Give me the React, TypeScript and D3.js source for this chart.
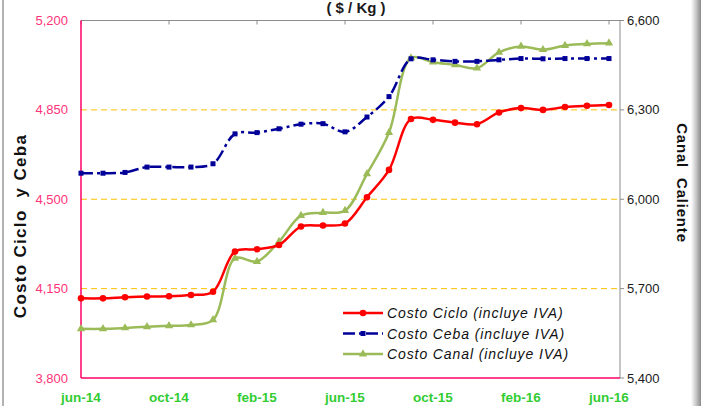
import * as d3 from 'd3';

const months = [
  'jun-14', 'jul-14', 'ago-14', 'sep-14', 'oct-14', 'nov-14', 'dic-14',
  'ene-15', 'feb-15', 'mar-15', 'abr-15', 'may-15', 'jun-15', 'jul-15',
  'ago-15', 'sep-15', 'oct-15', 'nov-15', 'dic-15', 'ene-16', 'feb-16',
  'mar-16', 'abr-16', 'may-16', 'jun-16',
];
const tickLabels = ['jun-14', 'oct-14', 'feb-15', 'jun-15', 'oct-15', 'feb-16', 'jun-16'];

const costoCiclo = [
  4112, 4112, 4116, 4119, 4120, 4125, 4138, 4295, 4304, 4321, 4393, 4397, 4405,
  4508, 4615, 4814, 4811, 4800, 4794, 4840, 4857, 4850, 4861, 4866, 4869,
];
const costoCeba = [
  4602, 4602, 4605, 4626, 4626, 4626, 4639, 4756, 4761, 4776, 4794, 4796, 4764,
  4822, 4902, 5050, 5046, 5040, 5040, 5046, 5051, 5050, 5051, 5051, 5051,
];
const costoCanal = [
  5565, 5565, 5568, 5572, 5575, 5578, 5595, 5802, 5791, 5858, 5945, 5955, 5962,
  6085, 6224, 6474, 6460, 6451, 6440, 6493, 6513, 6502, 6516, 6522, 6524,
];

const leftTicks = [3800, 4150, 4500, 4850, 5200];
const rightTicks = [5400, 5700, 6000, 6300, 6600];

const legendNames = ['Costo Ciclo (incluye IVA)', 'Costo Ceba (incluye IVA)', 'Costo Canal (incluye IVA)'];

const W = 701, H = 406;
const plotL = 81, plotR = 620, plotT = 20.5, plotB = 378;
const font = '"Liberation Sans", Arial, sans-serif';

export default function App() {
  const x = d3.scalePoint<string>().domain(months).range([plotL, 609]);
  const yL = d3.scaleLinear().domain([3800, 5200]).range([plotB, plotT]);
  const yR = d3.scaleLinear().domain([5400, 6600]).range([plotB, plotT]);

  const curve = d3.curveCatmullRom.alpha(0.5);
  const lineL = d3.line<number>().x((_, i) => x(months[i])!).y((d) => yL(d)).curve(curve);
  const lineR = d3.line<number>().x((_, i) => x(months[i])!).y((d) => yR(d)).curve(curve);

  const tri = d3.symbol().type(d3.symbolTriangle).size(30)()!;

  return (
    <svg width={W} height={H} style={{ position: 'absolute', left: 0, top: 0, display: 'block' }}>
      <defs>
        <linearGradient id="shadow" x1="0" x2="1" y1="0" y2="0">
          <stop offset="0" stopColor="#ffffff" />
          <stop offset="0.5" stopColor="#c8c8c8" />
          <stop offset="1" stopColor="#8a8a8a" />
        </linearGradient>
      </defs>
      <rect x={0} y={0} width={W} height={H} fill="#ffffff" />
      <rect x={691} y={0} width={10} height={H} fill="url(#shadow)" />
      <line x1={3} x2={3} y1={0} y2={H} stroke="#9a9a9a" strokeWidth={1.5} />

      {/* title */}
      <text x={356} y={13} textAnchor="middle" fontFamily={font} fontWeight="bold" fontSize={15} fill="#1a1a1a">( $ / Kg )</text>

      {/* gridlines */}
      {leftTicks.slice(1, -1).map((t) => (
        <line key={t} x1={plotL} x2={plotR} y1={yL(t)} y2={yL(t)} stroke="#FFC000" strokeWidth={1} strokeDasharray="6,4" />
      ))}

      {/* frame */}
      <line x1={plotL} x2={plotR} y1={plotT} y2={plotT} stroke="#8c8c8c" />
      <line x1={plotR} x2={plotR} y1={plotT} y2={plotB} stroke="#8c8c8c" />
      {tickLabels.map((m) => (
        <line key={m} x1={x(m)!} x2={x(m)!} y1={plotT} y2={plotT + 4} stroke="#8c8c8c" />
      ))}
      {rightTicks.map((t) => (
        <line key={t} x1={plotR} x2={plotR + 4} y1={yR(t)} y2={yR(t)} stroke="#8c8c8c" />
      ))}
      <line x1={plotL} x2={plotL} y1={plotT} y2={plotB} stroke="#FF0066" strokeWidth={1.5} />
      <line x1={plotL} x2={plotR} y1={plotB} y2={plotB} stroke="#FF0066" strokeWidth={1.5} />

      {/* left axis labels */}
      {leftTicks.map((t) => (
        <text key={t} x={68} y={yL(t) + 4.5} textAnchor="end" fontFamily={font} fontSize={13} fill="#FF3377">
          {d3.format(',')(t)}
        </text>
      ))}
      {/* right axis labels */}
      {rightTicks.map((t) => (
        <text key={t} x={627} y={yR(t) + 4.5} textAnchor="start" fontFamily={font} fontSize={13} fill="#1a1a1a">
          {d3.format(',')(t)}
        </text>
      ))}
      {/* bottom labels */}
      {tickLabels.map((m) => (
        <text key={m} x={x(m)!} y={402} textAnchor="middle" fontFamily={font} fontWeight="bold" fontSize={13.5} fill="#33CC33">{m}</text>
      ))}

      {/* axis titles */}
      <text transform="translate(25.5,226) rotate(-90)" textAnchor="middle" fontFamily={font} fontWeight="bold" fontSize={17} letterSpacing={1.3} fill="#111" style={{ whiteSpace: 'pre' }}>
        {'Costo Ciclo  y Ceba'}
      </text>
      <text transform="translate(677,183) rotate(90)" textAnchor="middle" fontFamily={font} fontWeight="bold" fontSize={15} letterSpacing={0.8} fill="#111" style={{ whiteSpace: 'pre' }}>
        {'Canal  Caliente'}
      </text>

      {/* series */}
      <path d={lineR(costoCanal)!} fill="none" stroke="#9BBB59" strokeWidth={2.5} />
      {costoCanal.map((d, i) => (
        <path key={i} d={tri} transform={`translate(${x(months[i])},${yR(d)})`} fill="#9BBB59" />
      ))}
      <path d={lineL(costoCeba)!} fill="none" stroke="#000099" strokeWidth={2.5} strokeDasharray="12,4,3,4" />
      {costoCeba.map((d, i) => (
        <rect key={i} x={x(months[i])! - 2.5} y={yL(d) - 2.5} width={5} height={5} fill="#000099" />
      ))}
      <path d={lineL(costoCiclo)!} fill="none" stroke="#FF0000" strokeWidth={2.5} />
      {costoCiclo.map((d, i) => (
        <circle key={i} cx={x(months[i])!} cy={yL(d)} r={3.3} fill="#FF0000" />
      ))}

      {/* legend */}
      {legendNames.map((name, i) => {
        const ly = 313 + i * 20.5;
        const color = ['#FF0000', '#000099', '#9BBB59'][i];
        return (
          <g key={name}>
            <line x1={343} x2={383} y1={ly} y2={ly} stroke={color} strokeWidth={2.5} strokeDasharray={i === 1 ? '12,4,3,4' : undefined} />
            {i === 0 && <circle cx={363} cy={ly} r={3.3} fill={color} />}
            {i === 1 && <rect x={360.5} y={ly - 2.5} width={5} height={5} fill={color} />}
            {i === 2 && <path d={tri} transform={`translate(363,${ly})`} fill={color} />}
            <text x={387} y={ly + 5} fontFamily={font} fontStyle="italic" fontSize={14} letterSpacing={0.9} fill="#111">{name}</text>
          </g>
        );
      })}
    </svg>
  );
}
